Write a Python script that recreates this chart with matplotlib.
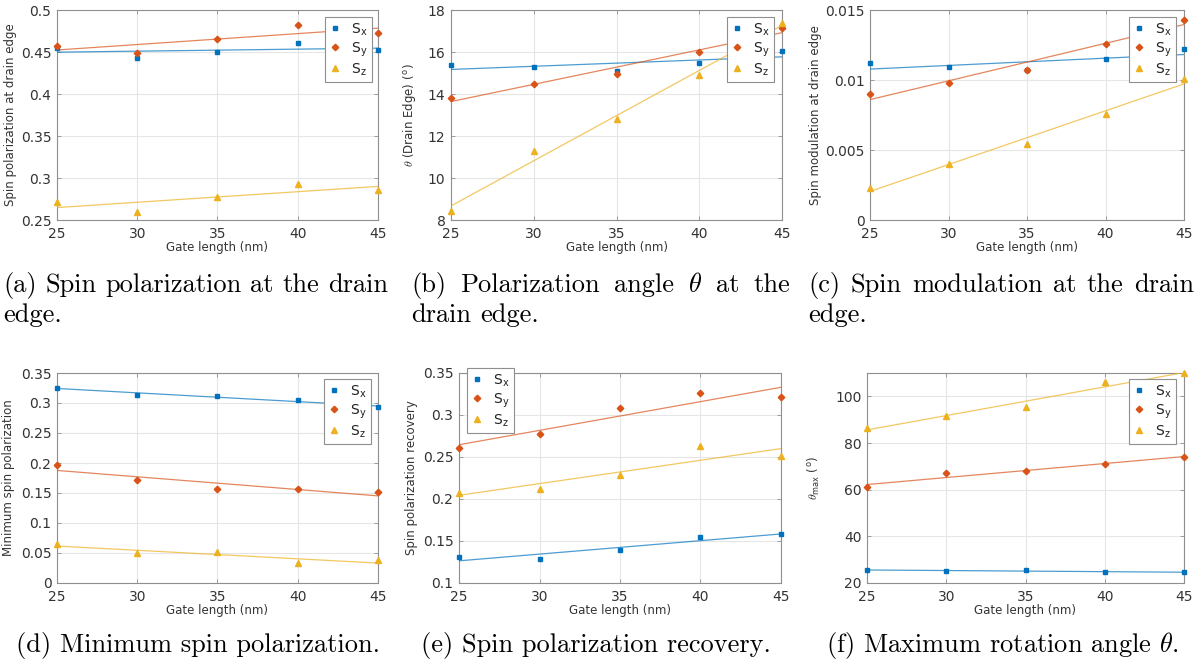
import numpy as np
import matplotlib
matplotlib.use("Agg")
import matplotlib.pyplot as plt
from matplotlib.ticker import FuncFormatter, MultipleLocator

# ---------------- data ----------------
gate_length = [25, 30, 35, 40, 45]
series_names = ["S$_\\mathregular{x}$", "S$_\\mathregular{y}$", "S$_\\mathregular{z}$"]

pol_sx = [0.455, 0.443, 0.450, 0.461, 0.452]
pol_sy = [0.457, 0.449, 0.466, 0.482, 0.473]
pol_sz = [0.271, 0.260, 0.277, 0.293, 0.286]

ang_sx = [15.4, 15.3, 15.1, 15.5, 16.05]
ang_sy = [13.8, 14.5, 14.95, 16.0, 17.15]
ang_sz = [8.45, 11.3, 12.8, 14.9, 17.4]

mod_sx = [0.0112, 0.0109, 0.0107, 0.0115, 0.0122]
mod_sy = [0.0090, 0.0098, 0.0107, 0.0126, 0.0143]
mod_sz = [0.0023, 0.0040, 0.0054, 0.0076, 0.0101]

min_sx = [0.325, 0.314, 0.311, 0.305, 0.293]
min_sy = [0.196, 0.172, 0.157, 0.156, 0.151]
min_sz = [0.065, 0.050, 0.051, 0.033, 0.038]

rec_sx = [0.131, 0.129, 0.139, 0.155, 0.158]
rec_sy = [0.261, 0.277, 0.308, 0.326, 0.322]
rec_sz = [0.207, 0.212, 0.228, 0.263, 0.251]

max_sx = [25.7, 25.0, 25.5, 24.6, 24.7]
max_sy = [61.0, 67.0, 68.0, 71.0, 74.0]
max_sz = [86.5, 91.5, 95.5, 106.0, 110.0]

xlabel = "Gate length (nm)"
ylabels = ["Spin polarization at drain edge",
           r"$\theta$ (Drain Edge) ($^\mathregular{o}$)",
           "Spin modulation at drain edge",
           "Minimum spin polarization",
           "Spin polarization recovery",
           r"$\theta_\mathregular{max}$ ($^\mathregular{o}$)"]
captions_top = [
    (["(a)", "Spin", "polarization", "at", "the", "drain"], ["edge."]),
    (["(b)", "Polarization", "angle", r"$\theta$", "at", "the"], ["drain", "edge."]),
    (["(c)", "Spin", "modulation", "at", "the", "drain"], ["edge."]),
]
captions_bottom = ["(d) Minimum spin polarization.",
                   "(e) Spin polarization recovery.",
                   r"(f) Maximum rotation angle $\theta$."]

panels = [
    (pol_sx, pol_sy, pol_sz, (0.25, 0.5), 0.05),
    (ang_sx, ang_sy, ang_sz, (8, 18), 2),
    (mod_sx, mod_sy, mod_sz, (0, 0.015), 0.005),
    (min_sx, min_sy, min_sz, (0, 0.35), 0.05),
    (rec_sx, rec_sy, rec_sz, (0.1, 0.35), 0.05),
    (max_sx, max_sy, max_sz, (20, 110), 20),
]

# ---------------- style ----------------
plt.rcParams["mathtext.fontset"] = "cm"
colors = ["#0072BD", "#D95319", "#EDB120"]
markers = ["s", "D", "^"]
msizes = [3.2, 3.3, 4.2]

W, H = 1203, 664
fig = plt.figure(figsize=(W / 100, H / 100), dpi=100)

# axes boxes in pixels: (left, right, top, bottom)
boxes = [(57, 378, 10, 220), (451, 782, 10, 220), (870, 1184, 10, 220),
         (57, 378, 373, 583), (459, 781, 373, 583), (867, 1184, 373, 583)]
ylabel_x = [17, 418, 822, 15, 418, 822]
legend_tl = [(325, 17), (727, 17), (1129, 17), (324, 379), (467, 368), (1129, 379)]

fmt = FuncFormatter(lambda v, p: "%g" % round(v, 6))
for i, (box, pan) in enumerate(zip(boxes, panels)):
    l, r, t, b = box
    ax = fig.add_axes([l / W, 1 - b / H, (r - l) / W, (b - t) / H])
    sx, sy, sz, ylim, ystep = pan
    x = np.array(gate_length, dtype=float)
    handles = []
    for s, c, m, ms, name in zip([sx, sy, sz], colors, markers, msizes, series_names):
        s = np.array(s, dtype=float)
        h, = ax.plot(x, s, ls="none", marker=m, color=c, ms=ms, mec=c, label=name,
                     zorder=4, clip_on=False)
        handles.append(h)
        k, c0 = np.polyfit(x, s, 1)
        ax.plot(x, k * x + c0, color=c, lw=0.9, alpha=0.7, zorder=3)
    ax.set_xlim(25, 45)
    ax.set_ylim(*ylim)
    ax.xaxis.set_major_locator(MultipleLocator(5))
    ax.yaxis.set_major_locator(MultipleLocator(ystep))
    ax.yaxis.set_major_formatter(fmt)
    ax.grid(True, color="#e6e6e6", lw=0.8)
    ax.set_axisbelow(True)
    for sp in ax.spines.values():
        sp.set_color("#8f8f8f")
        sp.set_linewidth(0.8)
    ax.tick_params(direction="in", length=3, width=0.6, color="#8f8f8f",
                   labelsize=10, labelcolor="#333333", top=True, right=True)
    ax.tick_params(axis="x", pad=5)
    ax.tick_params(axis="y", pad=4)
    ax.set_xlabel(xlabel, fontsize=8.5, color="#333333", labelpad=0)
    ax.set_ylabel(ylabels[i], fontsize=8.5, color="#333333")
    ax.yaxis.set_label_coords(ylabel_x[i] / W, 1 - (t + b) / 2 / H, transform=fig.transFigure)
    lx, ly = legend_tl[i]
    leg = ax.legend(handles=handles, loc="upper left",
                    bbox_to_anchor=(lx / W, 1 - ly / H), bbox_transform=fig.transFigure,
                    fontsize=10, frameon=True, fancybox=False, framealpha=1,
                    edgecolor="#8f8f8f", handlelength=0.9, handletextpad=0.7,
                    borderpad=0.3, labelspacing=0.2, borderaxespad=0)
    leg.get_frame().set_linewidth(0.8)
    for txt in leg.get_texts():
        txt.set_color("#222222")

# ---------------- captions ----------------
cap_fs = 19
renderer = fig.canvas.get_renderer()
cols = [(3, 388), (411, 790), (808, 1194)]


def place_words(words, x0, x1, ybase, justify):
    objs = []
    widths = []
    for w in words:
        t = fig.text(0, 1 - ybase / H, w, fontsize=cap_fs, family="cmr10",
                     va="baseline", ha="left")
        objs.append(t)
        widths.append(t.get_window_extent(renderer).width)
    if justify and len(words) > 1:
        gap = (x1 - x0 - sum(widths)) / (len(words) - 1)
    else:
        gap = cap_fs * 100 / 72 * 0.333
    cx = x0
    for t, w in zip(objs, widths):
        t.set_x(cx / W)
        cx += w + gap


for (l1, l2), (x0, x1) in zip(captions_top, cols):
    place_words(l1, x0, x1, 292, True)
    place_words(l2, x0, x1, 322, False)

col_centers = [198, 596, 1002]
for cap, cxp in zip(captions_bottom, col_centers):
    fig.text(cxp / W, 1 - 652 / H, cap, fontsize=cap_fs, family="cmr10",
             va="baseline", ha="center")

fig.savefig("out.png", dpi=100)
